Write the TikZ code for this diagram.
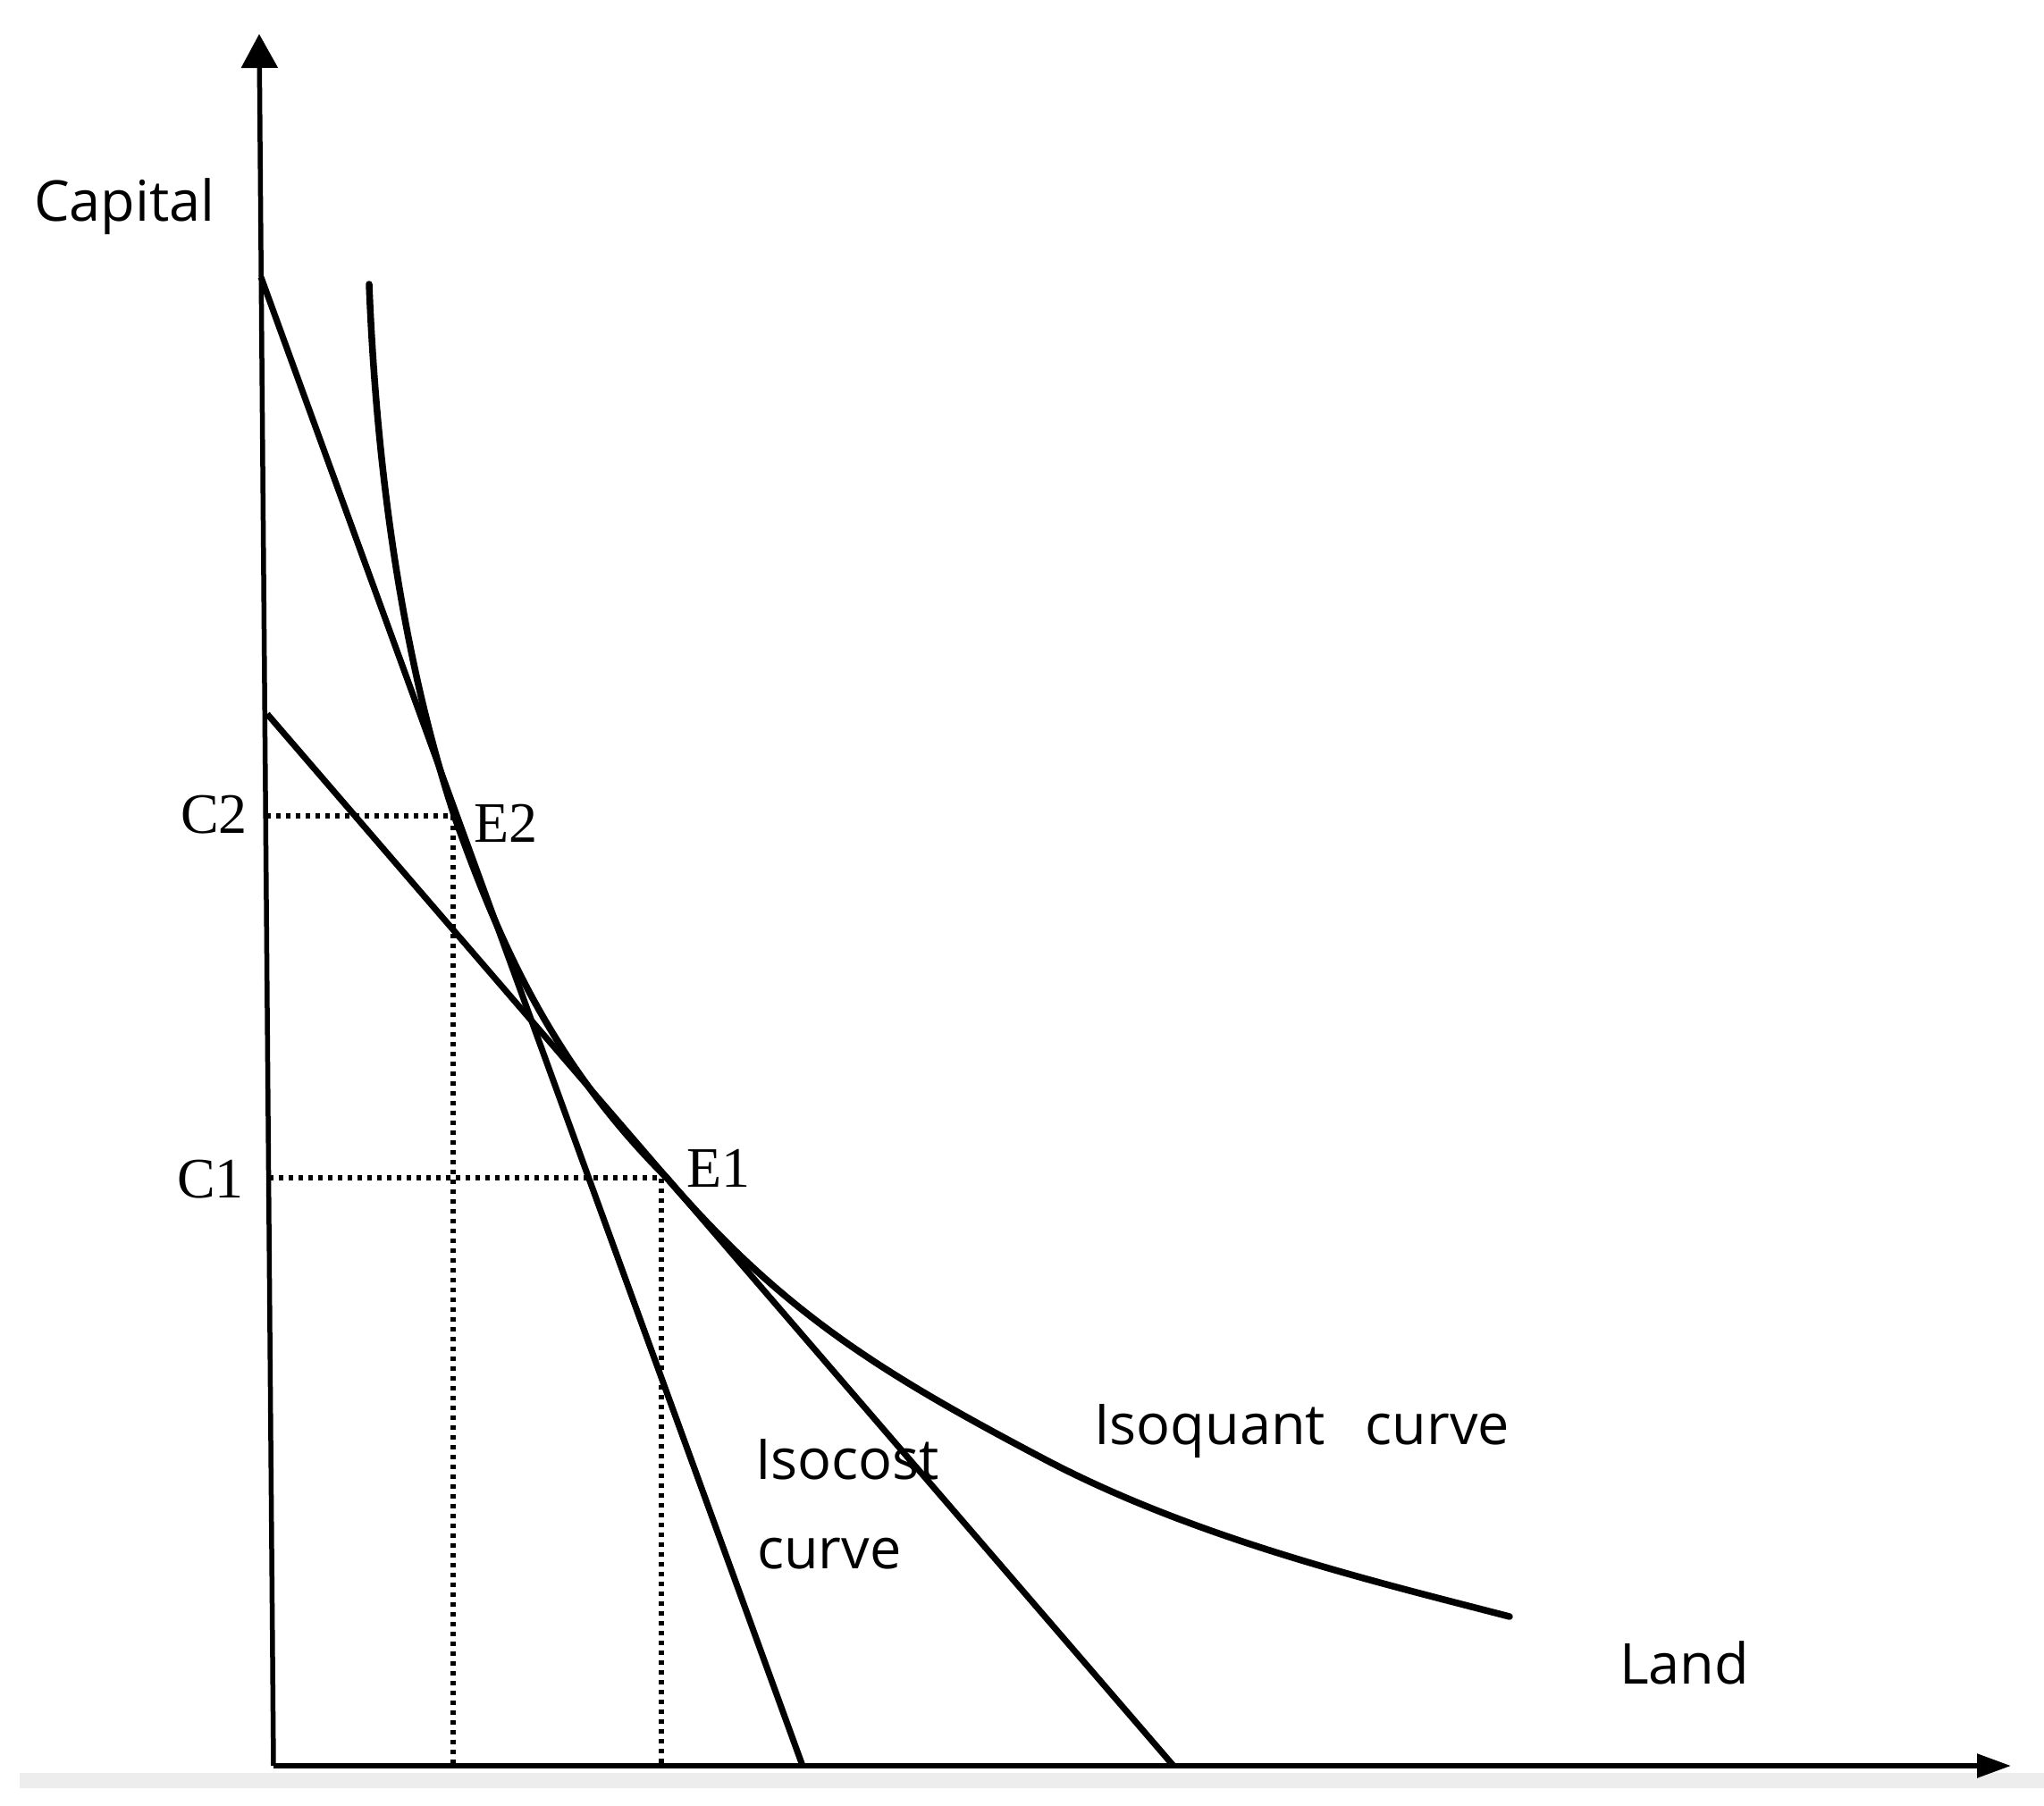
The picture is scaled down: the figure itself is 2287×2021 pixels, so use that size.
\documentclass[tikz,border=0pt]{standalone}
\usepackage{fontspec}
\setmainfont{Liberation Serif}
\newfontfamily\labelfont{Open Sans}
\usetikzlibrary{arrows.meta}
\tikzset{
  axisline/.style={line width=5.5pt, black},
  costline/.style={line width=7pt, black},
  quantline/.style={line width=7.5pt, black, line join=round, line cap=round},
  guide/.style={line width=5.5pt, black, dash pattern=on 5pt off 6pt},
  sanslabel/.style={inner sep=0pt, font=\labelfont\fontsize{63}{76}\selectfont},
  seriflabel/.style={inner sep=0pt, font=\fontsize{64}{70}\selectfont},
}
\begin{document}
\begin{tikzpicture}[x=1pt,y=-1pt]
\useasboundingbox (0,0) rectangle (2287,2021);
% bottom grey band
\fill[black!7] (22,1984) rectangle (2287,2001);
% key points
\coordinate (O) at (306,1976);
\coordinate (Ytip) at (290,38);
\coordinate (Xtip) at (2250,1976);
\coordinate (A1) at (292,310);
\coordinate (B1) at (898,1976);
\coordinate (A2) at (299,799);
\coordinate (B2) at (1313,1976);
\coordinate (E2) at (507,913);
\coordinate (E1) at (740,1318);
\coordinate (C2) at (298,913);
\coordinate (C1) at (301,1318);
\coordinate (E2b) at (507,1976);
\coordinate (E1b) at (740,1976);
% isoquant key points
\coordinate (Q0) at (413,318);
\coordinate (Q2) at (509,915);
\coordinate (Q1) at (746,1318);
\coordinate (Q3) at (1167,1632);
\coordinate (Q4) at (1689,1809);
% guides
\draw[guide] (C2) -- (E2) -- (E2b);
\draw[guide] (C1) -- (E1) -- (E1b);
% axes
\draw[axisline, -{Triangle[width=40pt,length=38pt]}] (O) -- (Ytip);
\draw[axisline, -{Triangle[width=26pt,length=38pt]}] (O) -- (Xtip);
% isocost lines
\draw[costline] (A1) -- (B1);
\draw[costline] (A2) -- (B2);
% isoquant
\draw[quantline] (Q0) .. controls (423,568) and (459.5,765) .. (Q2)
  .. controls (559,1055) and (617,1189) .. (Q1)
  .. controls (876,1469) and (987,1537) .. (Q3)
  .. controls (1337,1722) and (1539,1770) .. (Q4);
% labels
\node[sanslabel, anchor=base west] (capital) at (38,247) {Capital};
\node[sanslabel, anchor=base west] (land) at (1812,1884) {Land};
\node[sanslabel, anchor=base west] (isoquant) at (1224,1616) {Isoquant\hspace{0.45em} curve};
\node[sanslabel, anchor=base west] (isocost1) at (845,1655) {Isocost};
\node[sanslabel, anchor=base west] (isocost2) at (847,1755) {curve};
\node[seriflabel, anchor=base east] (c2) at (277,932) {C2};
\node[seriflabel, anchor=base east] (c1) at (273,1340) {C1};
\node[seriflabel, anchor=base west] (e2) at (530,942) {E2};
\node[seriflabel, anchor=base west] (e1) at (768,1328) {E1};
\end{tikzpicture}
\end{document}
